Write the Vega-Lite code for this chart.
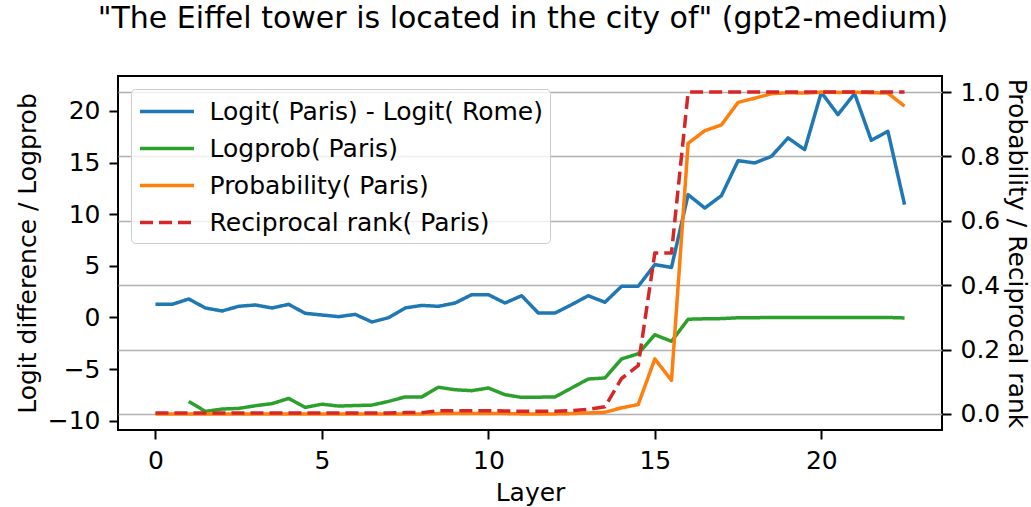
{
  "$schema": "https://vega.github.io/schema/vega-lite/v6.json",
  "width": 824,
  "height": 354,
  "autosize": {"type": "none"},
  "padding": {"left": 118, "top": 76, "right": 89, "bottom": 77},
  "background": "white",
  "title": {
    "text": "\"The Eiffel tower is located in the city of\" (gpt2-medium)",
    "font": "DejaVu Sans",
    "fontSize": 30,
    "fontWeight": "normal",
    "color": "black",
    "anchor": "middle",
    "offset": 42,
    "dx": -7
  },
  "config": {
    "view": {"stroke": "black", "strokeWidth": 2},
    "axis": {
      "domain": false,
      "tickColor": "black",
      "tickWidth": 2,
      "tickSize": 9,
      "labelFont": "DejaVu Sans",
      "labelFontSize": 25,
      "labelColor": "black",
      "labelPadding": 9,
      "titleFont": "DejaVu Sans",
      "titleFontSize": 25,
      "titleFontWeight": "normal",
      "titleColor": "black",
      "grid": false
    },
    "legend": {
      "symbolType": "M-2,0H2",
      "symbolSize": 729,
      "symbolStrokeWidth": 3.5,
      "symbolOffset": 13.5,
      "labelFont": "DejaVu Sans",
      "labelFontSize": 25,
      "labelColor": "black",
      "labelOffset": 27,
      "labelLimit": 0,
      "rowPadding": 8,
      "padding": 7,
      "fillColor": "rgba(255,255,255,0.8)",
      "strokeColor": "#cccccc",
      "cornerRadius": 4
    }
  },
  "data": {
    "values": [
      {"layer": 0, "diff": 1.27, "logprob": null, "prob": 0.0, "rr": 0.003},
      {"layer": 0.5, "diff": 1.27, "logprob": null, "prob": 0.0, "rr": 0.003},
      {"layer": 1, "diff": 1.79, "logprob": -8.13, "prob": 0.0, "rr": 0.003},
      {"layer": 1.5, "diff": 0.92, "logprob": -9.1, "prob": 0.0, "rr": 0.003},
      {"layer": 2, "diff": 0.63, "logprob": -8.87, "prob": 0.0, "rr": 0.003},
      {"layer": 2.5, "diff": 1.08, "logprob": -8.81, "prob": 0.0, "rr": 0.003},
      {"layer": 3, "diff": 1.21, "logprob": -8.55, "prob": 0.0, "rr": 0.003},
      {"layer": 3.5, "diff": 0.92, "logprob": -8.35, "prob": 0.0, "rr": 0.003},
      {"layer": 4, "diff": 1.27, "logprob": -7.84, "prob": 0.0, "rr": 0.003},
      {"layer": 4.5, "diff": 0.4, "logprob": -8.71, "prob": 0.0, "rr": 0.003},
      {"layer": 5, "diff": 0.24, "logprob": -8.4, "prob": 0.0, "rr": 0.003},
      {"layer": 5.5, "diff": 0.08, "logprob": -8.58, "prob": 0.0, "rr": 0.003},
      {"layer": 6, "diff": 0.3, "logprob": -8.53, "prob": 0.0, "rr": 0.003},
      {"layer": 6.5, "diff": -0.44, "logprob": -8.49, "prob": 0.0, "rr": 0.003},
      {"layer": 7, "diff": -0.02, "logprob": -8.13, "prob": 0.0, "rr": 0.003},
      {"layer": 7.5, "diff": 0.92, "logprob": -7.7, "prob": 0.0, "rr": 0.004},
      {"layer": 8, "diff": 1.17, "logprob": -7.7, "prob": 0.0, "rr": 0.004},
      {"layer": 8.5, "diff": 1.08, "logprob": -6.76, "prob": 0.001, "rr": 0.01},
      {"layer": 9, "diff": 1.4, "logprob": -7.0, "prob": 0.001, "rr": 0.01},
      {"layer": 9.5, "diff": 2.21, "logprob": -7.09, "prob": 0.001, "rr": 0.01},
      {"layer": 10, "diff": 2.21, "logprob": -6.83, "prob": 0.001, "rr": 0.01},
      {"layer": 10.5, "diff": 1.4, "logprob": -7.48, "prob": 0.001, "rr": 0.009},
      {"layer": 11, "diff": 2.11, "logprob": -7.74, "prob": 0.0, "rr": 0.008},
      {"layer": 11.5, "diff": 0.43, "logprob": -7.72, "prob": 0.0, "rr": 0.008},
      {"layer": 12, "diff": 0.43, "logprob": -7.7, "prob": 0.0, "rr": 0.008},
      {"layer": 12.5, "diff": 1.24, "logprob": -6.83, "prob": 0.001, "rr": 0.01},
      {"layer": 13, "diff": 2.11, "logprob": -5.96, "prob": 0.003, "rr": 0.014},
      {"layer": 13.5, "diff": 1.47, "logprob": -5.86, "prob": 0.005, "rr": 0.022},
      {"layer": 14, "diff": 3.02, "logprob": -4.02, "prob": 0.019, "rr": 0.11},
      {"layer": 14.5, "diff": 3.02, "logprob": -3.51, "prob": 0.029, "rr": 0.15},
      {"layer": 15, "diff": 5.12, "logprob": -1.67, "prob": 0.171, "rr": 0.5},
      {"layer": 15.5, "diff": 4.85, "logprob": -2.31, "prob": 0.104, "rr": 0.5},
      {"layer": 16, "diff": 11.9, "logprob": -0.17, "prob": 0.841, "rr": 1},
      {"layer": 16.5, "diff": 10.6, "logprob": -0.13, "prob": 0.88, "rr": 1},
      {"layer": 17, "diff": 11.8, "logprob": -0.11, "prob": 0.898, "rr": 1},
      {"layer": 17.5, "diff": 15.19, "logprob": -0.03, "prob": 0.968, "rr": 1},
      {"layer": 18, "diff": 14.97, "logprob": -0.02, "prob": 0.981, "rr": 1},
      {"layer": 18.5, "diff": 15.6, "logprob": -0.005, "prob": 0.995, "rr": 1},
      {"layer": 19, "diff": 17.39, "logprob": -0.002, "prob": 0.998, "rr": 1},
      {"layer": 19.5, "diff": 16.26, "logprob": -0.003, "prob": 0.997, "rr": 1},
      {"layer": 20, "diff": 21.8, "logprob": -0.0005, "prob": 0.9995, "rr": 1},
      {"layer": 20.5, "diff": 19.65, "logprob": -0.001, "prob": 0.999, "rr": 1},
      {"layer": 21, "diff": 21.69, "logprob": -0.0005, "prob": 0.9995, "rr": 1},
      {"layer": 21.5, "diff": 17.16, "logprob": -0.002, "prob": 0.998, "rr": 1},
      {"layer": 22, "diff": 18.03, "logprob": -0.003, "prob": 0.997, "rr": 1},
      {"layer": 22.5, "diff": 10.93, "logprob": -0.045, "prob": 0.956, "rr": 1}
    ]
  },
  "layer": [
    {
      "transform": [{"fold": ["diff", "logprob"], "as": ["series", "value"]}],
      "mark": {"type": "line", "strokeWidth": 3.5, "strokeJoin": "round"},
      "encoding": {
        "x": {
          "field": "layer", "type": "quantitative",
          "scale": {"domain": [-1.125, 23.625], "nice": false, "zero": false},
          "axis": {"values": [0, 5, 10, 15, 20], "title": "Layer", "titlePadding": 7}
        },
        "y": {
          "field": "value", "type": "quantitative",
          "scale": {"domain": [-10.9, 23.39], "nice": false, "zero": false},
          "axis": {"orient": "left", "values": [-10, -5, 0, 5, 10, 15, 20], "title": "Logit difference / Logprob", "titlePadding": 7}
        },
        "color": {
          "field": "series", "type": "nominal",
          "scale": {"domain": ["diff", "logprob", "prob", "rr"], "range": ["#1f77b4", "#2ca02c", "#ff7f0e", "#d62728"]},
          "legend": {"title": null, "orient": "none", "legendX": 13, "legendY": 13,
            "labelExpr": "datum.label == 'diff' ? 'Logit( Paris) - Logit( Rome)' : datum.label == 'logprob' ? 'Logprob( Paris)' : datum.label == 'prob' ? 'Probability( Paris)' : 'Reciprocal rank( Paris)'"}
        },
        "strokeDash": {
          "field": "series", "type": "nominal",
          "scale": {"domain": ["diff", "logprob", "prob", "rr"], "range": [[1, 0], [1, 0], [1, 0], [13, 6]]},
          "legend": {"title": null, "orient": "none", "legendX": 13, "legendY": 13,
            "labelExpr": "datum.label == 'diff' ? 'Logit( Paris) - Logit( Rome)' : datum.label == 'logprob' ? 'Logprob( Paris)' : datum.label == 'prob' ? 'Probability( Paris)' : 'Reciprocal rank( Paris)'"}
        }
      }
    },
    {
      "transform": [{"fold": ["prob", "rr"], "as": ["series", "value"]}],
      "mark": {"type": "line", "strokeWidth": 3.5, "strokeJoin": "round"},
      "encoding": {
        "x": {
          "field": "layer", "type": "quantitative",
          "scale": {"domain": [-1.125, 23.625], "nice": false, "zero": false},
          "axis": {"values": [0, 5, 10, 15, 20], "title": "Layer", "titlePadding": 7}
        },
        "y": {
          "field": "value", "type": "quantitative",
          "scale": {"domain": [-0.05, 1.05], "nice": false, "zero": false},
          "axis": {"orient": "right", "values": [0, 0.2, 0.4, 0.6, 0.8, 1.0], "format": ".1f", "grid": true, "gridColor": "#b0b0b0", "gridWidth": 1.6, "title": "Probability / Reciprocal rank", "titlePadding": 4}
        },
        "color": {
          "field": "series", "type": "nominal",
          "scale": {"domain": ["diff", "logprob", "prob", "rr"], "range": ["#1f77b4", "#2ca02c", "#ff7f0e", "#d62728"]},
          "legend": {"title": null, "orient": "none", "legendX": 13, "legendY": 13,
            "labelExpr": "datum.label == 'diff' ? 'Logit( Paris) - Logit( Rome)' : datum.label == 'logprob' ? 'Logprob( Paris)' : datum.label == 'prob' ? 'Probability( Paris)' : 'Reciprocal rank( Paris)'"}
        },
        "strokeDash": {
          "field": "series", "type": "nominal",
          "scale": {"domain": ["diff", "logprob", "prob", "rr"], "range": [[1, 0], [1, 0], [1, 0], [13, 6]]},
          "legend": {"title": null, "orient": "none", "legendX": 13, "legendY": 13,
            "labelExpr": "datum.label == 'diff' ? 'Logit( Paris) - Logit( Rome)' : datum.label == 'logprob' ? 'Logprob( Paris)' : datum.label == 'prob' ? 'Probability( Paris)' : 'Reciprocal rank( Paris)'"}
        }
      }
    }
  ],
  "resolve": {"scale": {"y": "independent"}}
}
